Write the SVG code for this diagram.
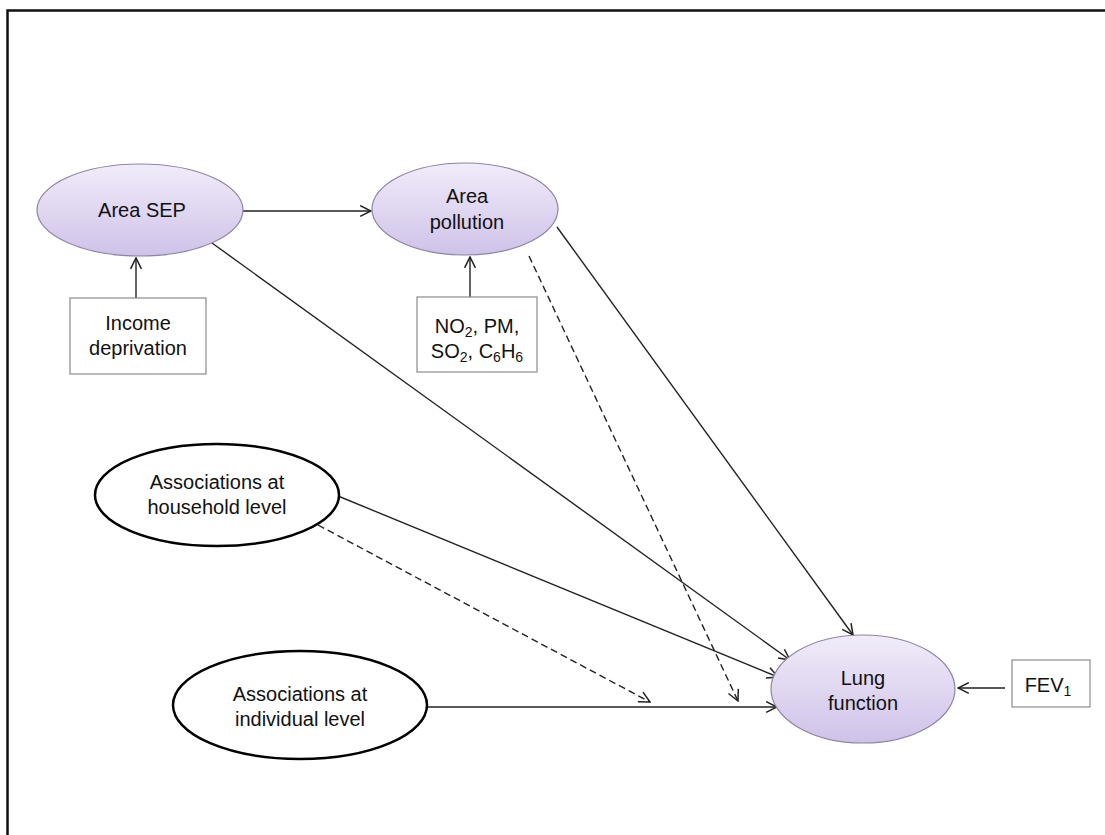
<svg xmlns="http://www.w3.org/2000/svg" width="1105" height="835" viewBox="0 0 1105 835">
  <defs>
    <linearGradient id="lilac" x1="0" y1="0" x2="0" y2="1">
      <stop offset="0" stop-color="#f1ecf9"/>
      <stop offset="0.5" stop-color="#e0d7f1"/>
      <stop offset="1" stop-color="#cfc2e8"/>
    </linearGradient>
    <marker id="open" viewBox="0 0 12 12" refX="11" refY="6" markerWidth="13" markerHeight="13" markerUnits="userSpaceOnUse" orient="auto">
      <path d="M1,1 L11,6 L1,11" fill="none" stroke="#222" stroke-width="1.4"/>
    </marker>
  </defs>
  <style>
    .lav { fill: url(#lilac); stroke: #8e84a6; stroke-width: 1.2; }
    .blk { fill: #ffffff; stroke: #000000; stroke-width: 2.5; }
    .box { fill: #ffffff; stroke: #8c8c8c; stroke-width: 1.2; }
    .t { font-family: "Liberation Sans", Arial, sans-serif; font-size: 20px; fill: #111; text-anchor: middle; }
    .sub { font-size: 14px; }
    .edge { fill: none; stroke: #222; stroke-width: 1.4; marker-end: url(#open); }
    .dash { stroke-dasharray: 7 4; }
  </style>

  <rect width="1105" height="835" fill="#ffffff"/>
  <!-- outer frame -->
  <rect x="7.5" y="10.5" width="1200" height="1000" fill="none" stroke="#111" stroke-width="2.5"/>

  <g id="connectors">
    <line class="edge" x1="243" y1="211" x2="371" y2="211"/>
    <line class="edge" x1="136" y1="298" x2="136" y2="258"/>
    <line class="edge" x1="470" y1="297" x2="470" y2="257"/>
    <line class="edge" x1="212" y1="243" x2="790" y2="660"/>
    <line class="edge" x1="557" y1="227" x2="853" y2="635"/>
    <line class="edge dash" x1="529" y1="256" x2="738" y2="701"/>
    <line class="edge" x1="338" y1="496" x2="778" y2="677"/>
    <line class="edge dash" x1="318" y1="525" x2="650" y2="702"/>
    <line class="edge" x1="427" y1="707" x2="777" y2="707"/>
    <line class="edge" x1="1005" y1="688" x2="958" y2="688"/>
  </g>

  <g id="area-sep">
    <ellipse class="lav" cx="140" cy="210" rx="103" ry="46"/>
    <text class="t" x="142" y="217">Area SEP</text>
  </g>

  <g id="area-pollution">
    <ellipse class="lav" cx="465" cy="209" rx="93" ry="46"/>
    <text class="t" x="467" y="203">Area</text>
    <text class="t" x="467" y="229">pollution</text>
  </g>

  <g id="income-deprivation">
    <rect class="box" x="70" y="298" width="136" height="76"/>
    <text class="t" x="138" y="330">Income</text>
    <text class="t" x="138" y="355">deprivation</text>
  </g>

  <g id="pollutants">
    <rect class="box" x="417" y="297" width="120" height="75"/>
    <text class="t" x="477" y="333">NO<tspan class="sub" dy="4">2</tspan><tspan dy="-4">, PM,</tspan></text>
    <text class="t" x="477" y="358">SO<tspan class="sub" dy="4">2</tspan><tspan dy="-4">, C</tspan><tspan class="sub" dy="4">6</tspan><tspan dy="-4">H</tspan><tspan class="sub" dy="4">6</tspan></text>
  </g>

  <g id="household-level">
    <ellipse class="blk" cx="217" cy="495" rx="122" ry="51"/>
    <text class="t" x="217" y="489">Associations at</text>
    <text class="t" x="217" y="514">household level</text>
  </g>

  <g id="individual-level">
    <ellipse class="blk" cx="300" cy="705" rx="127" ry="54"/>
    <text class="t" x="300" y="701">Associations at</text>
    <text class="t" x="300" y="726">individual level</text>
  </g>

  <g id="lung-function">
    <ellipse class="lav" cx="863" cy="689" rx="92" ry="54"/>
    <text class="t" x="863" y="685">Lung</text>
    <text class="t" x="863" y="710">function</text>
  </g>

  <g id="fev1">
    <rect class="box" x="1012" y="660" width="78" height="47"/>
    <text class="t" x="1048" y="692">FEV<tspan class="sub" dy="4">1</tspan></text>
  </g>
</svg>
